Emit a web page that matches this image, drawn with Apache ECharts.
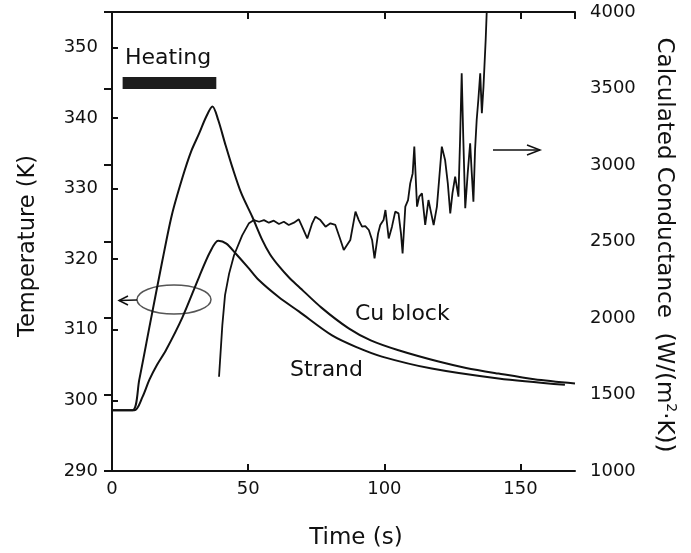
<!DOCTYPE html>
<html lang="en">
<head>
	<meta charset="UTF-8">
	<title>Temperature and conductance</title>
	<script src="https://cdn.jsdelivr.net/npm/echarts@6/dist/echarts.min.js"></script>
	<style>
		html, body { margin: 0; padding: 0; background: #fff; }
	</style>
</head>
<body>
	<div id="main" style="width: 691px;height:553px;"></div>
	<script type="text/javascript">
	// Cu block temperature (K) vs time (s)
	var cuTime = [0, 7.5, 10, 14, 18.5, 22, 25.9, 29, 32, 34.5, 36.9, 39, 41.5, 44.2, 47.5, 51.5, 55.2, 58, 61.3, 65, 68.6, 77, 86.9, 95, 105.2, 119.9, 130, 141.9, 155, 170];
	var cuTemp = [298.6, 298.6, 302.9, 310.9, 319.8, 326.3, 331.6, 335.2, 337.8, 340.1, 341.6, 339.7, 336.4, 333, 329.3, 326, 322.7, 320.7, 319, 317.4, 316.1, 313.1, 310.2, 308.5, 307.1, 305.5, 304.6, 303.8, 303, 302.4];

	// Strand temperature (K)
	var strandTime = [0, 8.2, 11.2, 13.7, 16.5, 19.8, 25.9, 32, 36, 39, 42, 45.4, 50, 54, 61.3, 68.6, 80.8, 90, 99.1, 117.4, 141.9, 166.3];
	var strandTemp = [298.6, 298.6, 300.5, 302.9, 305, 307.1, 311.8, 317.5, 321, 322.6, 322.2, 320.8, 318.8, 317, 314.6, 312.6, 309.2, 307.5, 306.2, 304.5, 303.1, 302.2];

	// calculated conductance W/(m2 K)
	var condTime = [39.3, 40.5, 41.5, 43, 44.8, 47.8, 50.3, 52.1, 54.0, 55.8, 57.6, 59.4, 61.3, 63.1, 64.9, 66.8, 68.6, 69.8, 71.7, 73.5, 74.7, 76.5, 78.4, 80.2, 82.0, 83.9, 85.1, 86.3, 87.5, 89.4, 90.6, 91.8, 93.0, 94.3, 95.5, 96.4, 97.7, 98.5, 99.7, 100.4, 101.6, 102.8, 104.0, 105.2, 106.1, 106.7, 107.7, 108.7, 109.5, 110.4, 111.0, 112.0, 112.8, 113.8, 115.0, 116.2, 117.2, 118.1, 119.3, 120.1, 121.1, 122.3, 123.3, 124.2, 125.0, 126.0, 127.2, 127.8, 128.4, 129.0, 129.7, 130.6, 131.5, 132.1, 132.7, 133.3, 133.9, 134.5, 135.2, 135.8, 136.4, 137.2, 137.8];
	var condVal = [1616, 1950, 2150, 2290, 2410, 2540, 2620, 2640, 2629, 2640, 2623, 2636, 2614, 2629, 2608, 2623, 2645, 2597, 2520, 2619, 2662, 2640, 2597, 2619, 2608, 2510, 2444, 2477, 2510, 2695, 2640, 2597, 2601, 2575, 2510, 2390, 2553, 2608, 2640, 2706, 2520, 2597, 2695, 2684, 2553, 2422, 2728, 2771, 2880, 2945, 3120, 2728, 2793, 2815, 2608, 2771, 2684, 2608, 2728, 2902, 3120, 3033, 2880, 2684, 2815, 2924, 2793, 3163, 3599, 3163, 2717, 2945, 3142, 2945, 2760, 3098, 3294, 3425, 3599, 3338, 3512, 3817, 4100];

	// axis ticks: min, max, step
	var timeTicks = [0, 170, 50];
	var tempTicks = [290, 355, 10];
	var condTicks = [1000, 4000, 500];

	// heating period bar
	var heatStart = 3.9, heatEnd = 38.3;

	function pairs(xs, ys) {
		return xs.map(function (x, i) { return [x, ys[i]]; });
	}

	var FONT = 'DejaVu Sans';
	var INK = '#111';

	var myChart = echarts.init(document.getElementById('main'));

	var tickLabel = {
		color: INK, fontSize: 18, fontFamily: FONT, showMaxLabel: false,
		formatter: function (v) { return String(v); }
	};

	var option = {
		animation: false,
		backgroundColor: '#fff',
		grid: { left: 112, right: 116, top: 12, bottom: 82 },
		xAxis: [{
			type: 'value', position: 'bottom',
			min: timeTicks[0], max: timeTicks[1], interval: timeTicks[2],
			axisLine: { lineStyle: { color: INK, width: 2 } },
			axisTick: { inside: true, length: 7, lineStyle: { color: INK, width: 2 } },
			axisLabel: Object.assign({ margin: 9 }, tickLabel),
			splitLine: { show: false }
		}, {
			type: 'value', position: 'top',
			min: timeTicks[0], max: timeTicks[1], interval: timeTicks[2],
			axisLine: { show: true, lineStyle: { color: INK, width: 2 } },
			axisTick: { inside: true, length: 7, lineStyle: { color: INK, width: 2 } },
			axisLabel: { show: false },
			splitLine: { show: false }
		}],
		yAxis: [{
			type: 'value', position: 'left',
			min: tempTicks[0], max: tempTicks[1], interval: tempTicks[2],
			axisLine: { show: true, lineStyle: { color: INK, width: 2 } },
			axisTick: { show: true, inside: true, length: 6, lineStyle: { color: INK, width: 2 } },
			axisLabel: Object.assign({ margin: 14 }, tickLabel),
			splitLine: { show: false }
		}, {
			type: 'value', position: 'right',
			min: condTicks[0], max: condTicks[1], interval: condTicks[2],
			axisLine: { show: true, lineStyle: { color: INK, width: 2 } },
			axisTick: { show: true, inside: true, length: 8, lineStyle: { color: INK, width: 2 } },
			axisLabel: Object.assign({ margin: 15 }, tickLabel, { showMaxLabel: true }),
			splitLine: { show: false }
		}],
		series: [{
			name: 'Cu block', type: 'line', xAxisIndex: 0, yAxisIndex: 0,
			data: pairs(cuTime, cuTemp),
			smooth: 0.3, showSymbol: false,
			lineStyle: { color: INK, width: 2 },
			markArea: {
				silent: true,
				itemStyle: { color: '#1c1c1c', opacity: 1 },
				data: [[{ coord: [heatStart, 345.8] }, { coord: [heatEnd, 344.1] }]]
			}
		}, {
			name: 'Strand', type: 'line', xAxisIndex: 0, yAxisIndex: 0,
			data: pairs(strandTime, strandTemp),
			smooth: 0.3, showSymbol: false,
			lineStyle: { color: INK, width: 2 }
		}, {
			name: 'Conductance', type: 'line', xAxisIndex: 0, yAxisIndex: 1,
			data: pairs(condTime, condVal),
			showSymbol: false, clip: true,
			lineStyle: { color: INK, width: 1.8 }
		}],
		graphic: [
			// axis titles
			{ type: 'text', x: 28, y: 246, rotation: Math.PI / 2,
				style: { text: 'Temperature (K)', fill: INK, font: '22.5px "' + FONT + '"', align: 'center', verticalAlign: 'middle' } },
			{ type: 'text', x: 664, y: 245, rotation: -Math.PI / 2,
				style: {
					text: '{a|Calculated Conductance  (W/(m}{s|2}{a|·K))}',
					align: 'center', verticalAlign: 'middle',
					rich: {
						a: { fill: INK, fontSize: 23, fontFamily: FONT, lineHeight: 28 },
						s: { fill: INK, fontSize: 14, fontFamily: FONT, lineHeight: 28, verticalAlign: 'top' }
					}
				} },
			{ type: 'text', x: 356, y: 538,
				style: { text: 'Time (s)', fill: INK, font: '23px "' + FONT + '"', align: 'center', verticalAlign: 'middle' } },
			// curve labels
			{ type: 'text', x: 125, y: 58,
				style: { text: 'Heating', fill: INK, font: '22px "' + FONT + '"', align: 'left', verticalAlign: 'middle' } },
			{ type: 'text', x: 355, y: 314,
				style: { text: 'Cu block', fill: INK, font: '22px "' + FONT + '"', align: 'left', verticalAlign: 'middle' } },
			{ type: 'text', x: 290, y: 370,
				style: { text: 'Strand', fill: INK, font: '22px "' + FONT + '"', align: 'left', verticalAlign: 'middle' } },
			// ellipse with arrow to the left axis
			{ type: 'ellipse', shape: { cx: 174, cy: 299.5, rx: 37, ry: 14.5 },
				style: { fill: 'none', stroke: '#555', lineWidth: 1.5 } },
			{ type: 'line', shape: { x1: 137, y1: 300, x2: 119, y2: 300.5 },
				style: { stroke: INK, lineWidth: 1.5 } },
			{ type: 'polyline', shape: { points: [[128, 296], [119, 300.5], [128, 305]] },
				style: { fill: 'none', stroke: INK, lineWidth: 1.5 } },
			// arrow to the right axis
			{ type: 'line', shape: { x1: 493, y1: 150, x2: 540, y2: 150 },
				style: { stroke: INK, lineWidth: 1.5 } },
			{ type: 'polyline', shape: { points: [[527, 145], [540, 150], [527, 155]] },
				style: { fill: 'none', stroke: INK, lineWidth: 1.5 } }
		]
	};

	myChart.setOption(option);
	</script>
</body>
</html>
